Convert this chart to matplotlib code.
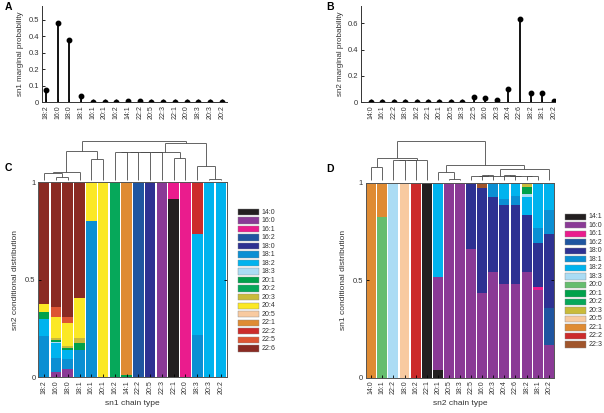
import matplotlib
matplotlib.use("Agg")
import matplotlib.pyplot as plt
from matplotlib.patches import Rectangle
import numpy as np

plt.rcParams['font.family'] = ['Liberation Sans', 'DejaVu Sans']
plt.rcParams['font.size'] = 5

# ---------------- data ----------------
A_labels = ['18:2', '16:0', '18:0', '18:1', '16:1', '20:1', '16:2', '14:1',
            '22:2', '20:5', '22:3', '22:1', '20:0', '18:3', '20:3', '20:2']
A_vals = [0.073, 0.484, 0.380, 0.040, 0.002, 0.002, 0.003, 0.006,
          0.007, 0.003, 0.002, 0.002, 0.002, 0.002, 0.002, 0.002]

B_labels = ['14:0', '16:1', '22:2', '18:0', '16:2', '22:1', '20:1', '20:5', '18:3',
            '22:5', '16:0', '20:3', '20:4', '22:6', '18:2', '18:1', '20:2']
B_vals = [0.002, 0.001, 0.001, 0.003, 0.006, 0.005, 0.002, 0.003, 0.004,
          0.038, 0.033, 0.015, 0.101, 0.633, 0.071, 0.071, 0.013]

chain_colors = {
    '14:0': '#231f20', '14:1': '#231f20', '16:0': '#8a3a96', '16:1': '#ea1c8d',
    '16:2': '#1f55a0', '18:0': '#2e3192', '18:1': '#0b8fd3', '18:2': '#00b3ee',
    '18:3': '#abdcf4', '20:0': '#66bd6e', '20:1': '#00a14b', '20:2': '#06a85a',
    '20:3': '#c9bb3a', '20:4': '#fbe825', '20:5': '#f8caa0', '22:1': '#df8b33',
    '22:2': '#cc2b2b', '22:3': '#a0552b', '22:5': '#dd5533', '22:6': '#8a2a22',
}

# C: sn2 conditional distribution given sn1 (columns follow A_labels)
C_legend = ['14:0', '16:0', '16:1', '16:2', '18:0', '18:1', '18:2', '18:3', '20:1',
            '20:2', '20:3', '20:4', '20:5', '22:1', '22:2', '22:5', '22:6']
C_frac = {
    '14:0': [0, 0, 0, 0, 0, 0, 0, 0, 0, 0, 0, 0.914, 0, 0, 0, 0],
    '16:0': [0, 0.026, 0.044, 0, 0, 0, 0, 0, 0, 0, 1, 0, 0, 0, 0, 0],
    '16:1': [0, 0, 0, 0, 0, 0, 0, 0, 0, 0, 0, 0.086, 1, 0, 0, 0],
    '16:2': [0, 0, 0, 0, 0, 0, 0, 0, 1, 0, 0, 0, 0, 0, 0, 0],
    '18:0': [0, 0, 0, 0, 0, 0, 0, 0, 0, 1, 0, 0, 0, 0, 0, 0],
    '18:1': [0.21, 0.072, 0.048, 0.14, 0.80, 0, 0, 0, 0, 0, 0, 0, 0, 0.217, 0, 0],
    '18:2': [0.09, 0.076, 0.048, 0, 0, 0, 0, 0, 0, 0, 0, 0, 0, 0.518, 1, 1],
    '18:3': [0, 0.009, 0, 0, 0, 0, 0, 0, 0, 0, 0, 0, 0, 0, 0, 0],
    '20:1': [0.035, 0.008, 0.010, 0.037, 0, 0, 0, 0.01, 0, 0, 0, 0, 0, 0, 0, 0],
    '20:2': [0, 0, 0, 0, 0, 0, 1, 0, 0, 0, 0, 0, 0, 0, 0, 0],
    '20:3': [0, 0.009, 0.012, 0.022, 0, 0, 0, 0, 0, 0, 0, 0, 0, 0, 0, 0],
    '20:4': [0.041, 0.111, 0.115, 0.21, 0.20, 1, 0, 0, 0, 0, 0, 0, 0, 0, 0, 0],
    '20:5': [0, 0, 0, 0, 0, 0, 0, 0, 0, 0, 0, 0, 0, 0, 0, 0],
    '22:1': [0, 0, 0, 0, 0, 0, 0, 0.99, 0, 0, 0, 0, 0, 0, 0, 0],
    '22:2': [0, 0, 0, 0, 0, 0, 0, 0, 0, 0, 0, 0, 0, 0.265, 0, 0],
    '22:5': [0, 0.051, 0.034, 0, 0, 0, 0, 0, 0, 0, 0, 0, 0, 0, 0, 0],
    '22:6': [0.624, 0.638, 0.689, 0.591, 0, 0, 0, 0, 0, 0, 0, 0, 0, 0, 0, 0],
}

# D: sn1 conditional distribution given sn2 (columns follow B_labels)
D_legend = ['14:1', '16:0', '16:1', '16:2', '18:0', '18:1', '18:2', '18:3', '20:0',
            '20:1', '20:2', '20:3', '20:5', '22:1', '22:2', '22:3']
D_frac = {
    '14:1': [0, 0, 0, 0, 0, 1, 0.038, 0, 0, 0, 0, 0, 0, 0, 0, 0, 0],
    '16:0': [0, 0, 0, 0, 0, 0, 0.477, 1, 1, 0.66, 0.433, 0.54, 0.48, 0.48, 0.54, 0.45, 0.17],
    '16:1': [0, 0, 0, 0, 0, 0, 0, 0, 0, 0, 0, 0, 0, 0, 0, 0.015, 0],
    '16:2': [0, 0, 0, 0, 0, 0, 0, 0, 0, 0, 0, 0, 0, 0, 0, 0, 0.19],
    '18:0': [0, 0, 0, 0, 0, 0, 0, 0, 0, 0.34, 0.542, 0.385, 0.405, 0.405, 0.294, 0.225, 0.375],
    '18:1': [0, 0, 0, 0, 0, 0, 0, 0, 0, 0, 0, 0.075, 0.03, 0.045, 0, 0.08, 0.125],
    '18:2': [0, 0, 0, 0, 0, 0, 0.485, 0, 0, 0, 0, 0, 0.085, 0.07, 0.092, 0.23, 0.14],
    '18:3': [0, 0, 1, 0, 0, 0, 0, 0, 0, 0, 0, 0, 0, 0, 0.016, 0, 0],
    '20:0': [0, 0.826, 0, 0, 0, 0, 0, 0, 0, 0, 0, 0, 0, 0, 0, 0, 0],
    '20:1': [0, 0, 0, 0, 0, 0, 0, 0, 0, 0, 0, 0, 0, 0, 0.036, 0, 0],
    '20:2': [0, 0, 0, 0, 0, 0, 0, 0, 0, 0, 0, 0, 0, 0, 0, 0, 0],
    '20:3': [0, 0, 0, 0, 0, 0, 0, 0, 0, 0, 0, 0, 0, 0, 0.02, 0, 0],
    '20:5': [0, 0, 0, 1, 0, 0, 0, 0, 0, 0, 0, 0, 0, 0, 0, 0, 0],
    '22:1': [1, 0.174, 0, 0, 0, 0, 0, 0, 0, 0, 0, 0, 0, 0, 0, 0, 0],
    '22:2': [0, 0, 0, 0, 1, 0, 0, 0, 0, 0, 0, 0, 0, 0, 0, 0, 0],
    '22:3': [0, 0, 0, 0, 0, 0, 0, 0, 0, 0, 0.025, 0, 0, 0, 0, 0, 0],
}

# dendrograms: (left, right, height); leaves are column indices
C_tree = ((((0, (1, 2, 0.07), 0.17), 3, 0.21), (4, 5, 0.53), 0.74),
          ((((((6, 7, 0.73), 8, 0.73), 9, 0.73), 10, 0.73), (11, 12, 0.56), 0.73),
           (13, (14, 15, 0.02), 0.36), 0.96),
          1.0)
D_tree = (((0, 1, 0.34), (((2, 3, 0.51), 4, 0.51), 5, 0.51), 0.56),
          ((6, (7, 8, 0.02), 0.21),
           ((((9, (10, 11, 0.12), 0.10), ((12, 13, 0.12), (14, 15, 0.11), 0.10), 0.10)), 16, 0.27),
           0.38),
          1.0)

# ---------------- figure ----------------
W, H = 604, 413
fig = plt.figure(figsize=(W / 100, H / 100), dpi=100)


def fax(x0, y0, x1, y1):
    """axes from pixel box (left, top, right, bottom)"""
    return fig.add_axes([x0 / W, 1 - y1 / H, (x1 - x0) / W, (y1 - y0) / H])


def stem_panel(box, labels, vals, ylab, yticks, ytl, ylim, xlim, letter, lpos):
    ax = fax(*box)
    x = np.arange(len(labels))
    ax.vlines(x, 0, vals, color='black', lw=1.3)
    ax.plot(x, vals, 'o', color='black', ms=3.2)
    ax.set_xlim(*xlim)
    ax.set_ylim(0, ylim)
    ax.set_xticks(x)
    ax.set_xticklabels(labels, rotation=90, fontsize=5, color='#333333')
    ax.set_yticks(yticks)
    ax.set_yticklabels(ytl, fontsize=5.5, color='#333333')
    ax.tick_params(direction='in', length=2, width=0.6, pad=2)
    for s in ['top', 'right']:
        ax.spines[s].set_visible(False)
    for s in ['left', 'bottom']:
        ax.spines[s].set_linewidth(0.7)
        ax.spines[s].set_color('#333333')
    ax.set_ylabel(ylab, fontsize=5.8, color='#333333', labelpad=3)
    fig.text(lpos[0] / W, 1 - lpos[1] / H, letter, fontsize=7.5, fontweight='bold',
             ha='left', va='center')
    return ax


stem_panel((41.7, 6, 226.7, 102.3), A_labels, A_vals, 'sn1 marginal probability',
           [0, 0.1, 0.2, 0.3, 0.4, 0.5], ['0', '0.1', '0.2', '0.3', '0.4', '0.5'],
           0.585, (-0.37, 15.43), 'A', (5, 7))
stem_panel((361, 6, 555, 102.3), B_labels, B_vals, 'sn2 marginal probability',
           [0, 0.2, 0.4, 0.6], ['0', '0.2', '0.4', '0.6'],
           0.73, (-0.85, 16.1), 'B', (326, 7))


def draw_tree(ax, node):
    if isinstance(node, int):
        return float(node), 0.0
    l, r, h = node
    xl, hl = draw_tree(ax, l)
    xr, hr = draw_tree(ax, r)
    kw = dict(color='#4a4a4a', lw=0.6, clip_on=False, solid_capstyle='butt')
    ax.plot([xl, xl], [hl, h], **kw)
    ax.plot([xr, xr], [hr, h], **kw)
    ax.plot([xl, xr], [h, h], **kw)
    return (xl + xr) / 2, h


def bar_panel(box, dbox, labels, legend, frac, tree, ylab, xlab, letter, lpos, legx, legy0):
    ax = fax(*box)
    n = len(labels)
    x = np.arange(n)
    bottom = np.zeros(n)
    for key in legend:
        v = np.array(frac[key], dtype=float)
        ax.bar(x, v, bottom=bottom, width=0.89, color=chain_colors[key], lw=0)
        bottom += v
    ax.set_xlim(-0.5, n - 0.5)
    ax.set_ylim(0, 1)
    ax.set_xticks(x)
    ax.set_xticklabels(labels, rotation=90, fontsize=5, color='#333333')
    ax.set_yticks([0, 0.5, 1])
    ax.set_yticklabels(['0', '0.5', '1'], fontsize=5.5, color='#333333')
    ax.tick_params(direction='in', length=2, width=0.6, pad=2, right=True)
    for s in ax.spines.values():
        s.set_linewidth(0.7)
        s.set_color('#555555')
    ax.set_ylabel(ylab, fontsize=6, color='#333333', labelpad=4)
    ax.set_xlabel(xlab, fontsize=6, color='#333333', labelpad=4)

    dax = fax(*dbox)
    dax.set_xlim(-0.5, n - 0.5)
    dax.set_ylim(0, 1)
    dax.axis('off')
    draw_tree(dax, tree)

    # legend
    lax = fig.add_axes([0, 0, 1, 1])
    lax.set_xlim(0, W)
    lax.set_ylim(H, 0)
    lax.axis('off')
    for i, key in enumerate(legend):
        yc = legy0 + 8.52 * i
        lax.add_patch(Rectangle((legx, yc - 3.2), 21, 6.4, facecolor=chain_colors[key],
                                edgecolor='#888888', lw=0.3))
        lax.text(legx + 23.5, yc, key, fontsize=5, color='#333333', va='center', ha='left')
    fig.text(lpos[0] / W, 1 - lpos[1] / H, letter, fontsize=7.5, fontweight='bold',
             ha='left', va='center')
    return ax


bar_panel((38.3, 182.3, 226.7, 377.3), (38.3, 141, 226.7, 180), A_labels, C_legend, C_frac,
          C_tree, 'sn2 conditional distribution', 'sn1 chain type', 'C', (5, 168), 237.7, 212)
bar_panel((365.7, 182.7, 554.3, 377.7), (365.7, 141, 554.3, 180), B_labels, D_legend, D_frac,
          D_tree, 'sn1 conditional distribution', 'sn2 chain type', 'D', (326, 169), 565, 216.7)

fig.savefig('out.png', dpi=100)
